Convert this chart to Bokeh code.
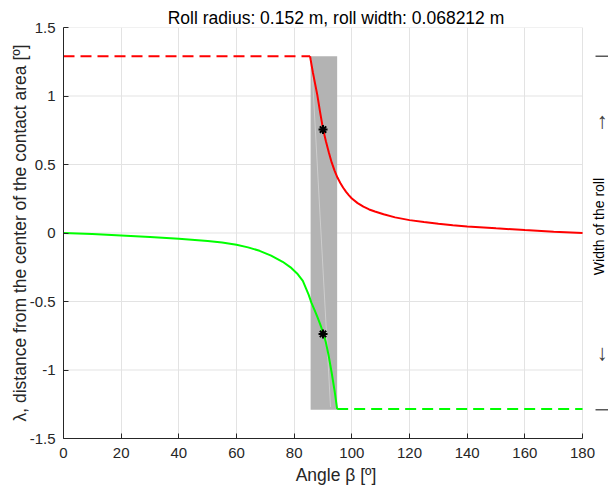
import math
from bokeh.plotting import figure
from bokeh.models import Range1d, FixedTicker
from bokeh.core.properties import value
from bokeh.embed import file_html
from bokeh.resources import INLINE

# ---------------- data ----------------
title_text = "Roll radius: 0.152 m, roll width: 0.068212 m"
x_label = "Angle β [º]"
y_label = "λ, distance from the center of the contact area [º]"
right_label = ["Width of the roll"]
x_ticks = [0, 20, 40, 60, 80, 100, 120, 140, 160, 180]
x_tick_labels = ["0", "20", "40", "60", "80", "100", "120", "140", "160", "180"]
y_ticks = [-1.5, -1.0, -0.5, 0.0, 0.5, 1.0, 1.5]
y_tick_labels = ["-1.5", "-1", "-0.5", "0", "0.5", "1", "1.5"]

# upper (red) branch
red_dash_beta = [0.0, 85.5]
red_dash_lambda = [1.29, 1.29]
red_beta = [85.5, 86.5, 88.0, 89.0, 90.0, 91.0, 92.0, 93.0, 94.0, 95.0, 96.0,
            97.0, 98.0, 99.0, 100.0, 102.0, 104.0, 106.0, 108.0, 111.0, 115.0,
            120.0, 125.0, 130.0, 135.0, 140.0, 150.0, 160.0, 170.0, 180.0]
red_lambda = [1.29, 1.17, 1.01, 0.88, 0.76, 0.67, 0.59, 0.515, 0.455, 0.405,
              0.365, 0.33, 0.30, 0.275, 0.252, 0.218, 0.192, 0.172, 0.157,
              0.137, 0.114, 0.094, 0.080, 0.067, 0.057, 0.048, 0.034, 0.021,
              0.010, 0.0]

# lower (green) branch
green_beta = [0.0, 10.0, 20.0, 30.0, 40.0, 50.0, 55.0, 60.0, 64.0, 68.0, 72.0,
              76.0, 79.0, 81.0, 83.0, 85.0, 86.0, 87.0, 88.0, 89.0, 90.0, 91.0,
              92.0, 93.0, 94.0, 94.9]
green_lambda = [0.0, -0.008, -0.018, -0.029, -0.042, -0.058, -0.070, -0.086,
                -0.105, -0.130, -0.165, -0.210, -0.255, -0.295, -0.350, -0.450,
                -0.510, -0.560, -0.610, -0.665, -0.725, -0.800, -0.900, -1.020,
                -1.150, -1.285]
green_dash_beta = [94.9, 180.0]
green_dash_lambda = [-1.285, -1.285]

# markers at beta = 90
star_beta = [90.0, 90.0]
star_lambda = [0.755, -0.737]

# contact region band
band_left = [85.7]
band_right = [94.9]
band_bottom = [-1.29]
band_top = [1.29]
seam_beta = [86.0, 92.6]
seam_lambda = [1.27, -1.27]

# right-hand annotation: roll edges and arrows
edge_lambda = [1.29, -1.29]
arrow_lambda = [0.82, -0.87]
arrow_labels = ["↑", "↓"]

# ---------------- figure ----------------
FONT = "Liberation Sans"
AX = "#262626"
X_MAX = 180.0
X_VIEW = 189.0  # room on the right for the roll-width annotation

p = figure(width=608, height=493,
           x_range=Range1d(0, X_VIEW), y_range=Range1d(-1.5, 1.5),
           output_backend="svg", toolbar_location=None,
           min_border_left=63, min_border_right=0,
           min_border_top=27, min_border_bottom=55)
p.outline_line_color = None
p.background_fill_color = "white"
p.border_fill_color = "white"

p.title.text = title_text
p.title.align = "center"
p.title.text_font = FONT
p.title.text_font_size = "17.5px"
p.title.text_font_style = "normal"
p.title.text_color = "black"
p.title.standoff = 0
p.title.offset = -13

GRID = "#e3e3e3"
# vertical grid
p.xgrid.ticker = FixedTicker(ticks=x_ticks)
p.xgrid.grid_line_color = GRID
p.xgrid.grid_line_width = 1
# horizontal grid drawn only across the data range
p.ygrid.visible = False
p.segment(x0=[x_ticks[0]] * len(y_ticks), x1=[x_ticks[-1]] * len(y_ticks),
          y0=y_ticks, y1=y_ticks, line_color=GRID, line_width=1)

# axes
p.xaxis.ticker = FixedTicker(ticks=x_ticks)
p.xaxis.major_label_overrides = {t: l for t, l in zip(x_ticks, x_tick_labels)}
p.xaxis.bounds = (0, X_MAX)
p.yaxis.ticker = FixedTicker(ticks=y_ticks)
p.yaxis.major_label_overrides = {t: l for t, l in zip(y_ticks, y_tick_labels)}
for ax in (p.xaxis, p.yaxis):
    ax.axis_line_color = AX
    ax.axis_line_width = 1
    ax.major_tick_line_color = AX
    ax.major_tick_in = 5
    ax.major_tick_out = 0
    ax.minor_tick_line_color = None
    ax.major_label_text_font = FONT
    ax.major_label_text_font_size = "15px"
    ax.major_label_text_color = AX
    ax.axis_label_text_font = FONT
    ax.axis_label_text_font_size = "17.5px"
    ax.axis_label_text_font_style = "normal"
    ax.axis_label_text_color = AX

p.xaxis.major_label_standoff = 9
p.xaxis.axis_label = x_label
p.xaxis.axis_label_standoff = 4
p.yaxis.major_label_standoff = 8
p.yaxis.axis_label = y_label
p.yaxis.axis_label_standoff = -3

# band
p.quad(left=band_left, right=band_right, bottom=band_bottom, top=band_top,
       fill_color="#b3b3b3", line_color=None)
p.line(seam_beta, seam_lambda, line_color="white", line_alpha=0.35, line_width=1)

# curves
p.line(red_dash_beta, red_dash_lambda, line_color="#ff0000", line_width=2,
       line_dash="11 6")
p.line(red_beta, red_lambda, line_color="#ff0000", line_width=2)
p.line(green_beta, green_lambda, line_color="#00ff00", line_width=2)
p.line(green_dash_beta, green_dash_lambda, line_color="#00ff00", line_width=2,
       line_dash="11 6")
p.scatter(star_beta, star_lambda, marker="asterisk", size=9,
          line_color="black", line_width=2)

# right-hand "width of the roll" annotation
p.segment(x0=[184.5] * len(edge_lambda), x1=[X_VIEW] * len(edge_lambda),
          y0=edge_lambda, y1=edge_lambda, line_color="#595959", line_width=1.5)
p.text(x=[186.8] * len(arrow_lambda), y=arrow_lambda, text=arrow_labels,
       text_align="center", text_baseline="middle", text_font=value(FONT),
       text_font_size="22px", text_color="#404040")
p.text(x=[185.6], y=[0.047], text=right_label, angle=math.pi / 2,
       text_align="center", text_baseline="middle", text_font=value(FONT),
       text_font_size="14px", text_color="black")

open("out.html", "w").write(file_html(p, INLINE))
